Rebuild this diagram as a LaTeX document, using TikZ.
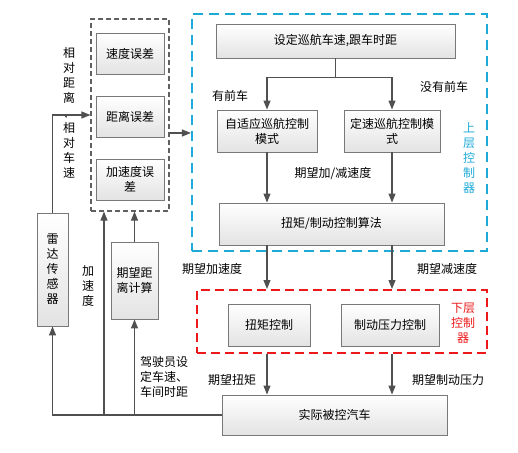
\documentclass[tikz,border=0pt]{standalone}
\usepackage{fontspec}
\setmainfont{Noto Sans CJK SC}
\usetikzlibrary{arrows.meta,shadows}
\definecolor{lc}{RGB}{80,80,80}
\definecolor{bc}{RGB}{30,170,215}
\definecolor{rc}{RGB}{235,25,25}
\definecolor{bd}{RGB}{120,120,120}
\tikzset{
  box/.style={draw=bd, line width=0.9pt, top color=white, bottom color=gray!22,
    align=center, inner sep=0pt, font=\fontsize{12}{15}\selectfont,
    drop shadow={opacity=0.25, shadow xshift=1.2pt, shadow yshift=-1.2pt}},
  lbl/.style={align=center, inner sep=0pt, font=\fontsize{12}{15}\selectfont},
  arr/.style={draw=lc, line width=1.1pt, -{Triangle[width=7pt,length=9pt]}},
  ln/.style={draw=lc, line width=1.1pt},
  grpbox/.style={draw=gray!75!black, line width=1.1pt, dash pattern=on 5pt off 3pt, inner sep=0pt},
  bluebox/.style={draw=bc, line width=2.2pt, dash pattern=on 10pt off 6pt, inner sep=0pt},
  redbox/.style={draw=rc, line width=2pt, dash pattern=on 9pt off 5pt, inner sep=0pt}
}
\begin{document}
\begin{tikzpicture}[x=1pt,y=-1pt]
\useasboundingbox (0,0) rectangle (518,452);
% groups
\node[grpbox, minimum width=78pt, minimum height=192pt] (grp) at (130,115) {};
\node[bluebox, minimum width=295pt, minimum height=237pt] (blue) at (339.5,132.5) {};
\node[redbox, minimum width=290pt, minimum height=63pt] (red) at (342,321.5) {};
% boxes
\node[box, minimum width=68pt, minimum height=41pt] (e1) at (130,53.5) {速度误差};
\node[box, minimum width=68pt, minimum height=41pt] (e2) at (130,116.5) {距离误差};
\node[box, minimum width=68pt, minimum height=41pt] (e3) at (130,179.5) {加速度误\\差};
\node[box, minimum width=239pt, minimum height=34pt] (set) at (335.5,41) {设定巡航车速,跟车时距};
\node[box, minimum width=100pt, minimum height=42pt] (acc) at (267,131) {自适应巡航控制\\模式};
\node[box, minimum width=96pt, minimum height=42pt] (cst) at (392,131) {定速巡航控制模\\式};
\node[box, minimum width=225pt, minimum height=42pt] (alg) at (331.5,224) {扭矩/制动控制算法};
\node[box, minimum width=82pt, minimum height=42pt] (tq) at (269,325) {扭矩控制};
\node[box, minimum width=98pt, minimum height=42pt] (brk) at (390,325) {制动压力控制};
\node[box, minimum width=225pt, minimum height=40pt] (car) at (334.5,415) {实际被控汽车};
\node[box, minimum width=31pt, minimum height=113pt] (radar) at (52.5,269.5) {雷\\达\\传\\感\\器};
\node[box, minimum width=47pt, minimum height=77pt] (dist) at (134.5,280.5) {期望距\\离计算};
% labels
\node[lbl] (l1) at (230,96) {有前车};
\node[lbl] (l2) at (444,87) {没有前车};
\node[lbl, text=bc] (l3) at (469,158) {上\\层\\控\\制\\器};
\node[lbl] (l4) at (333,174) {期望加/减速度};
\node[lbl] (l5) at (212,269) {期望加速度};
\node[lbl] (l6) at (447,269) {期望减速度};
\node[lbl, text=rc] (l7) at (463,323) {下层\\控制\\器};
\node[lbl] (l8) at (232,380) {期望扭矩};
\node[lbl] (l9) at (448,380) {期望制动压力};
\node[lbl, align=left, anchor=west] (l10) at (140,377) {驾驶员设\\定车速、\\车间时距};
\node[lbl] (l11) at (88,286) {加\\速\\度};
\node[lbl] (l12) at (69,113) {相\\对\\距\\离\\、\\相\\对\\车\\速};
% connectors
\draw[ln] (set.south) -- ++(0,19) coordinate (sp);
\draw[arr] (sp) -| (acc.north);
\draw[arr] (sp) -| (cst.north);
\draw[arr] (acc.south) -- (alg.north -| acc.south);
\draw[arr] (cst.south) -- (alg.north -| cst.south);
\draw[arr] (alg.south -| acc.south) -- (red.north -| acc.south);
\draw[arr] (alg.south -| cst.south) -- (red.north -| cst.south);
\draw[arr] (red.south -| acc.south) -- (car.north -| acc.south);
\draw[arr] (red.south -| cst.south) -- (car.north -| cst.south);
\coordinate (g1) at ([yshift=-18pt]grp.east);
\draw[arr] (g1) -- (g1 -| blue.west);
\draw[arr] (radar.north) |- (grp.west);
\draw[arr] (car.west) -| (radar.south);
\coordinate (b1) at (104,415);
\draw[arr] (b1) -- (b1 |- grp.south);
\coordinate (b2) at (dist.south |- car.west);
\draw[arr] (b2) -- (dist.south);
\draw[arr] (dist.north) -- (dist.north |- grp.south);
\end{tikzpicture}
\end{document}
